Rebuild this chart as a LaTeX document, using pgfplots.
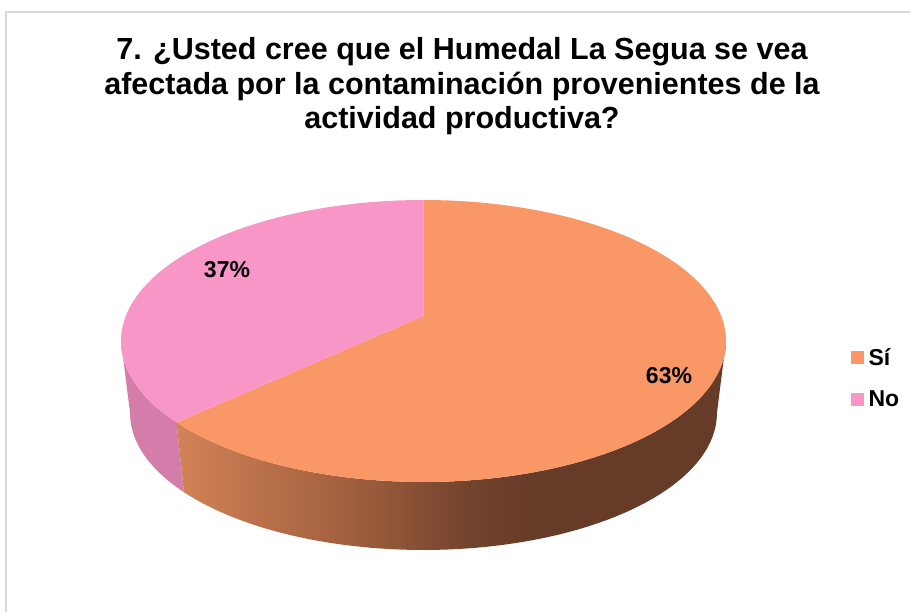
\documentclass[border=0pt]{standalone}
\usepackage{fontspec}
\setmainfont{Liberation Sans}
\usepackage{pgfplots}
\usepackage{pgfplotstable}
\pgfplotsset{compat=1.18}
\definecolor{cSi}{RGB}{249,152,102}
\definecolor{cNo}{RGB}{249,150,200}
\definecolor{cNoSide}{RGB}{212,125,170}
\definecolor{sA}{RGB}{210,130,86}
\definecolor{sB}{RGB}{160,95,62}
\definecolor{sC}{RGB}{115,68,45}
\definecolor{sD}{RGB}{102,59,40}
\definecolor{frame}{RGB}{217,217,217}
\pgfdeclarehorizontalshading{sideshade}{100bp}{color(0bp)=(sA); color(25bp)=(sA); color(41bp)=(sB); color(51.5bp)=(sC); color(57.5bp)=(sD); color(100bp)=(sD)}

\pgfplotstableread{
idx value
0 63
1 37
}\piedata
\pgfplotstablegetelem{0}{value}\of\piedata
\pgfmathsetmacro\vSi{\pgfplotsretval}
\pgfplotstablegetelem{1}{value}\of\piedata
\pgfmathsetmacro\vNo{\pgfplotsretval}
\pgfmathsetmacro\frSi{\vSi/(\vSi+\vNo)}
\pgfmathsetmacro\thB{90-360*\frSi}
\pgfmathsetmacro\thBp{\thB+360}
\pgfmathsetmacro\thL{-180+asin(0.177)}
\pgfmathsetmacro\thR{-asin(0.177)}

\begin{document}
\begin{tikzpicture}
\begin{axis}[
  at={(0,0)}, anchor=south west,
  scale only axis, width=910pt, height=612pt,
  xmin=0, xmax=910, ymin=0, ymax=612, y dir=reverse,
  hide axis, clip=false,
  declare function={
    px(\q,\k)=423.5+\k*297.72*cos(\q)/(1+0.177*sin(\q));
    py(\q,\k,\c)=\c-\k*141*(sin(\q)+0.177)/(1+0.177*sin(\q));
    sth(\q,\a,\b)=ifthenelse(\q<100.5,\a+(\b-\a)*\q/100,\b-(\b-\a)*(\q-101)/100);
    sk(\q)=ifthenelse(\q<100.5,1,0.97);
    sc(\q)=ifthenelse(\q<100.5,341,413.2);
  },
  legend cell align=left,
  legend style={at={(axis cs:851,378)}, anchor=west, draw=none, fill=none,
    inner sep=0pt, font=\bfseries\fontsize{23}{27}\selectfont, row sep=24pt,
    nodes={inner sep=0pt},
    /tikz/every even column/.append style={column sep=0pt}},
]
\addlegendimage{legend image code/.code={\fill[cSi] (0pt,-6pt) rectangle (12pt,6pt);}}
\addlegendentry{\hspace{5pt}Sí}
\addlegendimage{legend image code/.code={\fill[cNo] (0pt,-6pt) rectangle (12pt,6pt);}}
\addlegendentry{\hspace{5pt}No}

% frame
\draw[frame, line width=1.5pt] (axis cs:6,612) -- (axis cs:6,12) -- (axis cs:910,12);

% side walls
\addplot[draw=none, fill=cNoSide, samples at={0,...,201}, variable=\t]
  ({px(sth(\t,\thL,\thB),sk(\t))},{py(sth(\t,\thL,\thB),sk(\t),sc(\t))}) -- cycle;
\addplot[draw=none, shade, shading=sideshade, samples at={0,...,201}, variable=\t]
  ({px(sth(\t,\thB,\thR),sk(\t))},{py(sth(\t,\thB,\thR),sk(\t),sc(\t))}) -- cycle;

% top faces
\addplot[draw=none, fill=cSi, domain=\thB:90, samples=150, variable=\t]
  ({px(\t,1)},{py(\t,1,341)}) -- (axis cs:423.5,316.04) -- cycle;
\addplot[draw=none, fill=cNo, domain=90:\thBp, samples=120, variable=\t]
  ({px(\t,1)},{py(\t,1,341)}) -- (axis cs:423.5,316.04) -- cycle;

% data labels
\node[font=\bfseries\fontsize{23}{27}\selectfont] at (axis cs:669,376) {63\%};
\node[font=\bfseries\fontsize{23}{27}\selectfont] at (axis cs:227,270) {37\%};

% title
\node[anchor=base, font=\bfseries\fontsize{30.5}{36}\selectfont] at (axis cs:462,60) {7. ¿Usted cree que el Humedal La Segua se vea};
\node[anchor=base, font=\bfseries\fontsize{30.5}{36}\selectfont] at (axis cs:462,94.5) {afectada por la contaminación provenientes de la};
\node[anchor=base, font=\bfseries\fontsize{30.5}{36}\selectfont] at (axis cs:462,129) {actividad productiva?};
\end{axis}
\pgfresetboundingbox
\useasboundingbox (0,0) rectangle (910pt,612pt);
\end{tikzpicture}
\end{document}
